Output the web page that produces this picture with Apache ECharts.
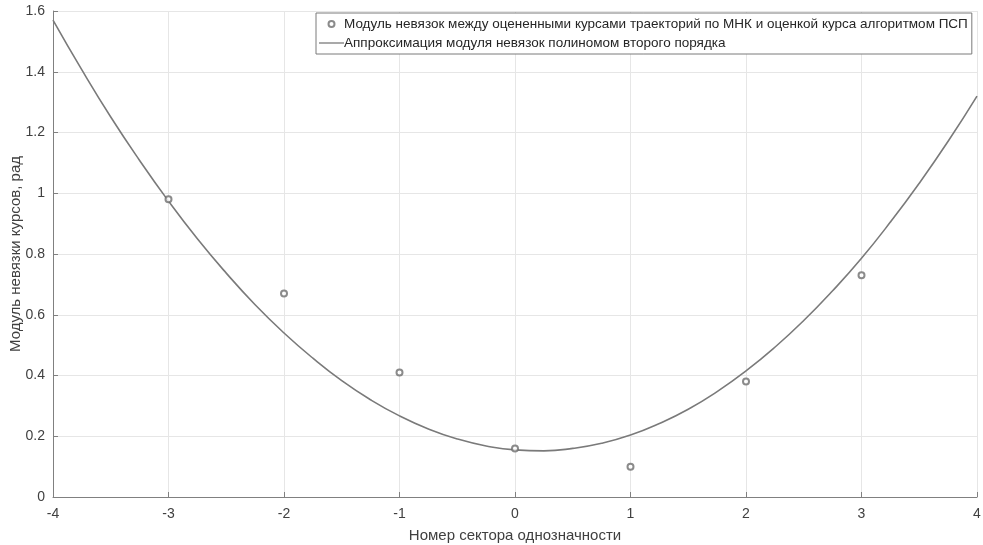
<!DOCTYPE html>
<html>
<head>
<meta charset="utf-8">
<script src="https://cdn.jsdelivr.net/npm/echarts@6/dist/echarts.min.js"></script>
<style>html,body{margin:0;padding:0;background:#fff;}#c{width:983px;height:545px;}</style>
</head>
<body>
<div id="c"></div>
<script>
// Measured points
var sectors = [-3, -2, -1, 0, 1, 2, 3];
var residuals = [0.98, 0.67, 0.41, 0.16, 0.10, 0.38, 0.73];
// Approximation curve
var curveX = [-4, -3.75, -3.5, -3.25, -3, -2.75, -2.5, -2.25, -2, -1.75, -1.5, -1.25, -1, -0.75, -0.5, -0.25,
              0, 0.25, 0.5, 0.75, 1, 1.25, 1.5, 1.75, 2, 2.25, 2.5, 2.75, 3, 3.25, 3.5, 3.75, 4];
var curveY = [1.570, 1.406, 1.251, 1.108, 0.974, 0.850, 0.737, 0.633, 0.540, 0.457, 0.383, 0.320, 0.267, 0.224, 0.191, 0.168,
              0.155, 0.152, 0.160, 0.177, 0.204, 0.242, 0.289, 0.347, 0.415, 0.493, 0.581, 0.679, 0.786, 0.905, 1.033, 1.171, 1.320];
var seriesNames = [
  'Модуль невязок между оцененными курсами траекторий по МНК и оценкой курса алгоритмом ПСП',
  'Аппроксимация модуля невязок полиномом второго порядка'
];
var xName = 'Номер сектора однозначности';
var yName = 'Модуль невязки курсов, рад';

var font = 'Liberation Sans, Arial, sans-serif';
var chart = echarts.init(document.getElementById('c'), null, {renderer: 'canvas'});
chart.setOption({
  animation: false,
  backgroundColor: '#fff',
  grid: {left: 53, right: 6, top: 11, bottom: 48, containLabel: false, outerBoundsMode: 'none'},
  legend: {
    orient: 'vertical',
    left: 316,
    top: 13,
    itemGap: 5,
    itemWidth: 25,
    itemHeight: 6,
    padding: [4, 4, 4, 3],
    borderColor: '#7a7a7a',
    borderWidth: 1,
    backgroundColor: '#fff',
    textStyle: {fontFamily: font, fontSize: 13.5, color: '#262626', padding: [0, 0, 0, -5]},
    data: [
      seriesNames[0],
      {name: seriesNames[1], icon: 'path://M0,0L25,0L25,1.3L0,1.3Z'}
    ]
  },
  xAxis: {
    type: 'value', min: -4, max: 4, interval: 1,
    name: xName, nameLocation: 'middle', nameGap: 31, nameMoveOverlap: false,
    nameTextStyle: {fontFamily: font, fontSize: 15, color: '#404040'},
    axisLine: {show: true, onZero: false, lineStyle: {color: '#808080', width: 1}},
    axisTick: {show: true, inside: true, length: 5, lineStyle: {color: '#808080'}},
    axisLabel: {fontFamily: font, fontSize: 14, color: '#404040', margin: 10},
    splitLine: {show: true, lineStyle: {color: '#e6e6e6', width: 1}}
  },
  yAxis: {
    type: 'value', min: 0, max: 1.6, interval: 0.2,
    name: yName, nameLocation: 'middle', nameGap: 30, nameMoveOverlap: false,
    nameTextStyle: {fontFamily: font, fontSize: 15, color: '#404040'},
    axisLine: {show: true, onZero: false, lineStyle: {color: '#808080', width: 1}},
    axisTick: {show: true, inside: true, length: 5, lineStyle: {color: '#808080'}},
    axisLabel: {fontFamily: font, fontSize: 14, color: '#404040', margin: 8,
      formatter: function (v) { return String(Math.round(v * 10) / 10); }},
    splitLine: {show: true, lineStyle: {color: '#e6e6e6', width: 1}}
  },
  series: [
    {
      name: seriesNames[0], type: 'scatter',
      data: sectors.map(function (x, i) { return [x, residuals[i]]; }),
      symbol: 'emptyCircle', symbolSize: 6,
      itemStyle: {color: '#6e6e6e', borderColor: '#6e6e6e', borderWidth: 1.3},
      z: 3
    },
    {
      name: seriesNames[1], type: 'line',
      data: curveX.map(function (x, i) { return [x, curveY[i]]; }),
      smooth: true, showSymbol: false, symbol: 'none',
      lineStyle: {color: '#7a7a7a', width: 1.6},
      itemStyle: {color: '#7a7a7a'},
      z: 2
    }
  ]
});
</script>
</body>
</html>
